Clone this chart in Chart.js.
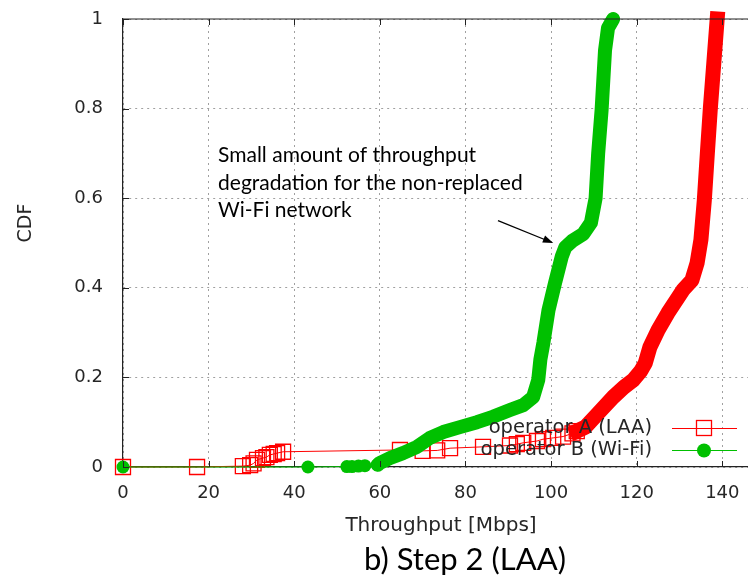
<!DOCTYPE html>
<html>
<head>
<meta charset="utf-8">
<script src="https://cdn.jsdelivr.net/npm/chart.js@4.4.1/dist/chart.umd.min.js"></script>
<style>
  body { margin: 0; background: #fff; }
  canvas { display: block; }
</style>
</head>
<body>
<canvas id="cdfChart" width="748" height="576"></canvas>
<script>
// tick labels
const xTicks = [0, 20, 40, 60, 80, 100, 120, 140];
const yTicks = [0, 0.2, 0.4, 0.6, 0.8, 1];

// operator A (LAA) - sparse part with open squares
const laaSparseX = [0, 17.3, 28, 29.7, 30.5, 31.3, 32.7, 33.5, 34.3, 35.2, 36, 37.4, 64.7, 70, 73.4, 76.4, 84.1, 90.4, 92, 93.5, 96.7, 98.1, 100.5, 102.8, 105, 106];
const laaSparseY = [0, 0, 0.002, 0.004, 0.008, 0.016, 0.02, 0.022, 0.027, 0.029, 0.031, 0.034, 0.038, 0.036, 0.037, 0.042, 0.045, 0.048, 0.051, 0.054, 0.058, 0.062, 0.065, 0.068, 0.075, 0.08];
// operator A (LAA) - dense part (markers merge into a band)
const laaDenseX = [106, 108, 111, 114.5, 117, 119.2, 121, 122, 123.1, 125, 127.3, 130.8, 132.9, 134.1, 135, 135.8, 136.5, 137.2, 138, 138.8];
const laaDenseY = [0.08, 0.089, 0.12, 0.156, 0.178, 0.194, 0.215, 0.232, 0.268, 0.306, 0.344, 0.395, 0.417, 0.455, 0.507, 0.596, 0.7, 0.8, 0.9, 1.0];

// operator B (Wi-Fi) - sparse part with filled circles
const wifiSparseX = [0, 43.2, 52.3, 53.5, 55, 56.5, 59.5];
const wifiSparseY = [0, 0, 0.001, 0.001, 0.002, 0.003, 0.005];
// operator B (Wi-Fi) - dense part
const wifiDenseX = [59.5, 60, 62.4, 65.4, 68.7, 71.7, 74.8, 78.7, 82.7, 86.4, 90.4, 93.5, 95.8, 97, 97.5, 98.2, 99.4, 100.9, 102.5, 103.3, 105, 107.5, 109.3, 110, 110.4, 111, 111.8, 112.6, 113.3, 114.5];
const wifiDenseY = [0.005, 0.009, 0.02, 0.031, 0.045, 0.065, 0.078, 0.089, 0.1, 0.112, 0.127, 0.138, 0.156, 0.194, 0.24, 0.277, 0.35, 0.41, 0.47, 0.49, 0.505, 0.52, 0.545, 0.58, 0.6, 0.7, 0.797, 0.93, 0.98, 1.0];

const RED = '#ff0000';
const GREEN = '#00c000';
const TXT = '#262626';

function toPoints(xs, ys) {
    return xs.map((x, i) => ({ x: x, y: ys[i] }));
}

// gnuplot-like decorations: top border, inward ticks, titles, note, legend
const gnuplotDecor = {
    id: 'gnuplotDecor',
    afterDraw(chart) {
        const ctx = chart.ctx;
        const area = chart.chartArea;
        const xs = chart.scales.x;
        const ys = chart.scales.y;
        ctx.save();

        // top border
        ctx.strokeStyle = '#222';
        ctx.lineWidth = 1.2;
        ctx.beginPath();
        ctx.moveTo(area.left, area.top);
        ctx.lineTo(area.right, area.top);
        ctx.stroke();

        // inward tick marks
        ctx.lineWidth = 1;
        ctx.beginPath();
        xTicks.forEach(v => {
            const px = Math.round(xs.getPixelForValue(v)) + 0.5;
            ctx.moveTo(px, area.bottom);
            ctx.lineTo(px, area.bottom - 6);
            ctx.moveTo(px, area.top);
            ctx.lineTo(px, area.top + 6);
        });
        yTicks.forEach(v => {
            const py = Math.round(ys.getPixelForValue(v)) + 0.5;
            ctx.moveTo(area.left, py);
            ctx.lineTo(area.left + 6, py);
        });
        ctx.stroke();

        // axis titles
        ctx.fillStyle = TXT;
        ctx.font = '20px "DejaVu Sans"';
        ctx.textAlign = 'center';
        ctx.textBaseline = 'middle';
        ctx.fillText('Throughput [Mbps]', 441, 526);
        ctx.save();
        ctx.translate(26, 223);
        ctx.rotate(-Math.PI / 2);
        ctx.font = '19px "DejaVu Sans"';
        ctx.fillText('CDF', 0, 0);
        ctx.restore();

        // caption
        ctx.fillStyle = '#000';
        ctx.font = '31px Lato';
        ctx.textBaseline = 'alphabetic';
        ctx.fillText('b) Step 2 (LAA)', 465, 570);

        // annotation
        ctx.font = '21px Lato';
        ctx.textAlign = 'left';
        const noteX = xs.getPixelForValue(22.2);
        ['Small amount of throughput', 'degradation for the non-replaced', 'Wi-Fi network'].forEach((line, i) => {
            ctx.fillText(line, noteX, 162 + i * 27.5);
        });
        const ax0 = xs.getPixelForValue(87.6), ay0 = ys.getPixelForValue(0.55);
        const ax1 = xs.getPixelForValue(100.5), ay1 = ys.getPixelForValue(0.5);
        const ang = Math.atan2(ay1 - ay0, ax1 - ax0);
        ctx.strokeStyle = '#000';
        ctx.lineWidth = 1.3;
        ctx.beginPath();
        ctx.moveTo(ax0, ay0);
        ctx.lineTo(ax1 - 8 * Math.cos(ang), ay1 - 8 * Math.sin(ang));
        ctx.stroke();
        ctx.beginPath();
        ctx.moveTo(ax1, ay1);
        ctx.lineTo(ax1 - 11 * Math.cos(ang - 0.35), ay1 - 11 * Math.sin(ang - 0.35));
        ctx.lineTo(ax1 - 11 * Math.cos(ang + 0.35), ay1 - 11 * Math.sin(ang + 0.35));
        ctx.closePath();
        ctx.fill();

        // legend
        ctx.font = '19.5px "DejaVu Sans"';
        ctx.textAlign = 'right';
        ctx.textBaseline = 'middle';
        ctx.fillStyle = TXT;
        ctx.fillText('operator A (LAA)', 652, 428);
        ctx.fillText('operator B (Wi-Fi)', 652, 450);
        ctx.lineWidth = 1;
        ctx.strokeStyle = RED;
        ctx.beginPath();
        ctx.moveTo(672, 428.5);
        ctx.lineTo(737, 428.5);
        ctx.stroke();
        ctx.lineWidth = 1.3;
        ctx.strokeRect(696.5, 420.5, 15, 15);
        ctx.strokeStyle = GREEN;
        ctx.lineWidth = 1;
        ctx.beginPath();
        ctx.moveTo(672, 450.5);
        ctx.lineTo(737, 450.5);
        ctx.stroke();
        ctx.fillStyle = GREEN;
        ctx.beginPath();
        ctx.arc(704, 450.5, 7, 0, Math.PI * 2);
        ctx.fill();

        ctx.restore();
    }
};

new Chart(document.getElementById('cdfChart'), {
    type: 'scatter',
    data: {
        datasets: [
            {
                label: 'operator B (Wi-Fi)',
                data: toPoints(wifiDenseX, wifiDenseY),
                showLine: true,
                borderColor: GREEN,
                borderWidth: 14,
                borderCapStyle: 'round',
                borderJoinStyle: 'round',
                pointRadius: 0,
                clip: false,
                order: 0
            },
            {
                label: 'operator B (Wi-Fi) sparse',
                data: toPoints(wifiSparseX, wifiSparseY),
                showLine: true,
                borderColor: GREEN,
                borderWidth: 1,
                pointStyle: 'circle',
                pointRadius: 6.5,
                pointBackgroundColor: GREEN,
                pointBorderWidth: 0,
                clip: false,
                order: 1
            },
            {
                label: 'operator A (LAA)',
                data: toPoints(laaDenseX, laaDenseY),
                showLine: true,
                borderColor: RED,
                borderWidth: 15,
                borderCapStyle: 'square',
                borderJoinStyle: 'round',
                pointRadius: 0,
                clip: false,
                order: 2
            },
            {
                label: 'operator A (LAA) sparse',
                data: toPoints(laaSparseX, laaSparseY),
                showLine: true,
                borderColor: RED,
                borderWidth: 1,
                pointStyle: 'rect',
                pointRadius: 10.6,
                pointBackgroundColor: 'rgba(0,0,0,0)',
                pointBorderColor: RED,
                pointBorderWidth: 1.3,
                clip: false,
                order: 3
            }
        ]
    },
    options: {
        responsive: false,
        devicePixelRatio: 1,
        animation: false,
        events: [],
        layout: { autoPadding: false, padding: { top: 19, right: 0, left: 0, bottom: 0 } },
        plugins: {
            legend: { display: false },
            tooltip: { enabled: false }
        },
        scales: {
            x: {
                type: 'linear',
                min: 0,
                max: 146,
                afterBuildTicks: axis => { axis.ticks = xTicks.map(v => ({ value: v })); },
                afterFit: scale => {
                    scale.height = 109;
                    scale.paddingLeft = 0;
                    scale.paddingRight = 0;
                },
                ticks: {
                    color: TXT,
                    font: { family: 'DejaVu Sans', size: 18 },
                    padding: 16,
                    maxRotation: 0,
                    autoSkip: false,
                    callback: v => String(v)
                },
                grid: { color: '#a0a0a0', lineWidth: 1, drawTicks: false },
                border: { color: '#222', width: 1.2, dash: [2, 4] }
            },
            y: {
                type: 'linear',
                min: 0,
                max: 1,
                afterBuildTicks: axis => { axis.ticks = yTicks.map(v => ({ value: v })); },
                afterFit: scale => {
                    scale.width = 123;
                    scale.paddingTop = 0;
                    scale.paddingBottom = 0;
                },
                ticks: {
                    color: TXT,
                    font: { family: 'DejaVu Sans', size: 18 },
                    padding: 20,
                    callback: v => String(v)
                },
                grid: { color: '#a0a0a0', lineWidth: 1, drawTicks: false },
                border: { color: '#222', width: 1.2, dash: [2, 4] }
            }
        }
    },
    plugins: [gnuplotDecor]
});
</script>
</body>
</html>
